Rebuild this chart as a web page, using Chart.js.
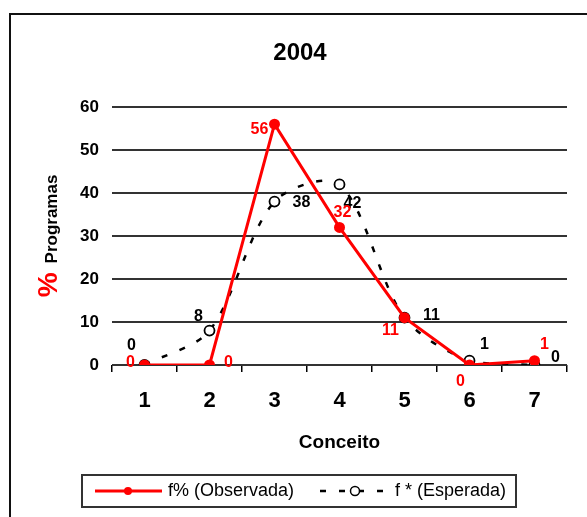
<!DOCTYPE html>
<html>
<head>
<meta charset="utf-8">
<script src="https://cdn.jsdelivr.net/npm/chart.js@4/dist/chart.umd.min.js"></script>
<style>
  html, body { margin: 0; padding: 0; background: #fff; }
  canvas { display: block; }
</style>
</head>
<body>
<canvas id="chart" width="587" height="517"></canvas>
<script>
const categories = ['1', '2', '3', '4', '5', '6', '7'];
const observada = [0, 0, 56, 32, 11, 0, 1];
const esperada = [0, 8, 38, 42, 11, 1, 0];
const yMax = 60;
const yStep = 10;

const FONT = '"Liberation Sans", Arial, sans-serif';
const RED = '#ff0000';

// deslocamento dos rótulos em relação ao ponto (px)
const obsLabelOffsets = [[-14, -2], [19, -2], [-15, 5], [3, -15], [-14, 13], [-9, 17], [10, -16]];
const espLabelOffsets = [[-13, -19], [-11, -14], [27, 1], [13, 19], [27, -2], [15, -16], [21, -7]];

function drawLabels(chart, idx, values, offsets, color) {
  const ctx = chart.ctx;
  const meta = chart.getDatasetMeta(idx);
  ctx.save();
  ctx.font = 'bold 16px ' + FONT;
  ctx.fillStyle = color;
  ctx.textAlign = 'center';
  ctx.textBaseline = 'middle';
  meta.data.forEach((pt, i) => {
    ctx.fillText(String(values[i]), pt.x + offsets[i][0], pt.y + offsets[i][1]);
  });
  ctx.restore();
}

const decor = {
  id: 'decor',
  beforeDraw(chart) {
    const ctx = chart.ctx;
    ctx.save();
    ctx.fillStyle = '#fff';
    ctx.fillRect(0, 0, chart.width, chart.height);
    ctx.strokeStyle = '#111';
    ctx.lineWidth = 2;
    ctx.beginPath();
    ctx.moveTo(10, chart.height);
    ctx.lineTo(10, 14);
    ctx.lineTo(chart.width, 14);
    ctx.stroke();
    ctx.restore();
  },
  afterDatasetsDraw(chart) {
    drawLabels(chart, 1, esperada, espLabelOffsets, '#000');
    drawLabels(chart, 0, observada, obsLabelOffsets, RED);
  },
  afterDraw(chart) {
    const ctx = chart.ctx;
    const area = chart.chartArea;
    ctx.save();
    ctx.fillStyle = '#000';
    ctx.textAlign = 'center';
    ctx.textBaseline = 'middle';

    // título
    ctx.font = 'bold 24px ' + FONT;
    ctx.fillText('2004', 300, 53);

    // título do eixo x
    ctx.font = 'bold 19px ' + FONT;
    ctx.fillText('Conceito', (area.left + area.right) / 2, 443);

    // título do eixo y: "%" vermelho + "Programas"
    ctx.save();
    ctx.translate(57, 236);
    ctx.rotate(-Math.PI / 2);
    ctx.textAlign = 'left';
    ctx.textBaseline = 'alphabetic';
    ctx.font = 'bold 28px ' + FONT;
    const wPct = ctx.measureText('%').width;
    ctx.font = 'bold 17px ' + FONT;
    const wProg = ctx.measureText('Programas').width;
    const gap = 9;
    let x0 = -(wPct + gap + wProg) / 2;
    ctx.font = 'bold 28px ' + FONT;
    ctx.fillStyle = RED;
    ctx.fillText('%', x0, 0);
    ctx.font = 'bold 17px ' + FONT;
    ctx.fillStyle = '#000';
    ctx.fillText('Programas', x0 + wPct + gap, 0);
    ctx.restore();

    // legenda
    ctx.strokeStyle = '#333';
    ctx.lineWidth = 2;
    ctx.strokeRect(82, 475, 434, 32);
    const ly = 491;
    ctx.strokeStyle = RED;
    ctx.lineWidth = 3;
    ctx.beginPath();
    ctx.moveTo(95, ly);
    ctx.lineTo(162, ly);
    ctx.stroke();
    ctx.fillStyle = RED;
    ctx.beginPath();
    ctx.arc(128, ly, 4, 0, Math.PI * 2);
    ctx.fill();

    ctx.strokeStyle = '#000';
    ctx.lineWidth = 2.5;
    ctx.setLineDash([6, 13]);
    ctx.beginPath();
    ctx.moveTo(320, ly);
    ctx.lineTo(390, ly);
    ctx.stroke();
    ctx.setLineDash([]);
    ctx.fillStyle = '#fff';
    ctx.lineWidth = 1.5;
    ctx.beginPath();
    ctx.arc(355, ly, 4.5, 0, Math.PI * 2);
    ctx.fill();
    ctx.stroke();

    ctx.fillStyle = '#000';
    ctx.textAlign = 'left';
    ctx.font = '18px ' + FONT;
    ctx.fillText(chart.data.datasets[0].label, 168, ly);
    ctx.fillText(chart.data.datasets[1].label, 395, ly);
    ctx.restore();
  }
};

new Chart(document.getElementById('chart'), {
  type: 'line',
  data: {
    labels: categories,
    datasets: [
      {
        label: 'f% (Observada)',
        data: observada,
        borderColor: RED,
        backgroundColor: RED,
        borderWidth: 3,
        pointRadius: 4,
        pointBackgroundColor: RED,
        pointBorderColor: RED,
        tension: 0,
        order: 0,
      },
      {
        label: 'f * (Esperada)',
        data: esperada,
        borderColor: '#000',
        backgroundColor: '#fff',
        borderWidth: 2.5,
        borderDash: [6, 13],
        pointRadius: 5,
        pointBackgroundColor: '#fff',
        pointBorderColor: '#000',
        pointBorderWidth: 1.8,
        tension: 0.3,
        order: 1,
      },
    ],
  },
  options: {
    responsive: false,
    animation: false,
    events: [],
    layout: { padding: { left: 0, top: 107, right: 20, bottom: 102 } },
    plugins: {
      legend: { display: false },
      title: { display: false },
      tooltip: { enabled: false },
    },
    scales: {
      x: {
        offset: true,
        grid: {
          display: true,
          drawOnChartArea: false,
          drawTicks: true,
          tickLength: 7,
          offset: true,
          color: '#000',
          lineWidth: 1.5,
        },
        border: { display: false },
        ticks: { color: '#000', padding: 16, font: { family: FONT, size: 22, weight: 'bold' } },
        afterFit: (s) => { s.height = 50; },
      },
      y: {
        min: 0,
        max: yMax,
        ticks: { stepSize: yStep, padding: 13, color: '#000', font: { family: FONT, size: 17, weight: 'bold' } },
        grid: { color: '#333', lineWidth: 2, drawTicks: false },
        border: { display: false },
        afterFit: (s) => { s.width = 112; },
      },
    },
  },
  plugins: [decor],
});
</script>
</body>
</html>
